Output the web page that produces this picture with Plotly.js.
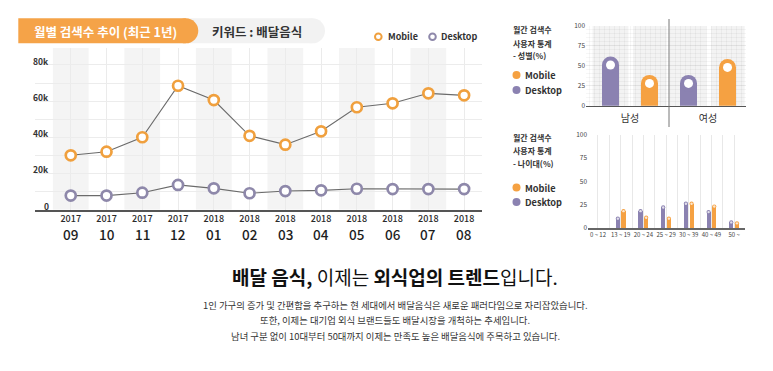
<!DOCTYPE html>
<html>
<head>
<meta charset="utf-8">
<script src="https://cdn.plot.ly/plotly-3.0.1.min.js"></script>
<style>html,body{margin:0;padding:0;background:#fff;}#chart{width:773px;height:371px;}</style>
</head>
<body>
<div id="chart"></div>
<script>
// ---------- data ----------
const months = ['2017-09','2017-10','2017-11','2017-12','2018-01','2018-02','2018-03','2018-04','2018-05','2018-06','2018-07','2018-08'];
const yearLabels = ['2017','2017','2017','2017','2018','2018','2018','2018','2018','2018','2018','2018'];
const monthLabels = ['09','10','11','12','01','02','03','04','05','06','07','08'];
const mobileSearches = [30000, 32000, 40000, 68500, 60600, 40800, 35900, 43300, 56600, 58800, 64300, 63200];
const desktopSearches = [7700, 7700, 9300, 13600, 11700, 9000, 10200, 10600, 11500, 11300, 11300, 11300];
const searchTicks = [0, 20000, 40000, 60000, 80000];
const searchTickLabels = ['0', '20k', '40k', '60k', '80k'];

const genders = ['남성', '여성'];
const genderDesktop = [51, 28];
const genderMobile = [28, 48];

const ageGroups = ['0 ~ 12', '13 ~ 19', '20 ~ 24', '25 ~ 29', '30 ~ 39', '40 ~ 49', '50 ~'];
const ageDesktop = [0, 10, 18, 22, 26, 17, 6];
const ageMobile = [0, 18, 11, 10, 26, 23, 5];
const pctTicks = [0, 25, 50, 75, 100];
const pctTickLabels = ['0', '25', '50', '75', '100'];

const headerTitle = '월별 검색수 추이 (최근 1년)';
const keywordLabel = '키워드 : 배달음식';
const genderTitle = ['월간 검색수', '사용자 통계', '- 성별(%)'];
const ageTitle = ['월간 검색수', '사용자 통계', '- 나이대(%)'];
const headline = '<b>배달 음식,</b> 이제는 <b>외식업의 트렌드</b>입니다.';
const bodyLines = [
  '1인 가구의 증가 및 간편함을 추구하는 현 세대에서 배달음식은 새로운 패러다임으로 자리잡았습니다.',
  '또한, 이제는 대기업 외식 브랜드들도 배달시장을 개척하는 추세입니다.',
  '남녀 구분 없이 10대부터 50대까지 이제는 만족도 높은 배달음식에 주목하고 있습니다.'
];

// ---------- helpers ----------
const W = 773, H = 371;
const X = p => p / W;
const Y = p => 1 - p / H;
const FONT = 'Noto Sans CJK KR, Noto Sans, sans-serif';
const ORANGE = '#f5a142';
const PURPLE = '#8b82b1';
const RING_ORANGE = '#f0a03e';
const RING_PURPLE = '#8e88aa';

const gIdx = genders.map((_, i) => i);
const aIdx = ageGroups.map((_, i) => i);

const traces = [];
// main chart
traces.push({x: months, y: mobileSearches, type: 'scatter', mode: 'lines+markers', xaxis: 'x', yaxis: 'y',
  line: {color: '#6b6b6b', width: 1.1},
  marker: {symbol: 'circle', size: 10, color: '#ffffff', line: {color: RING_ORANGE, width: 2.7}}, hoverinfo: 'skip'});
traces.push({x: months, y: desktopSearches, type: 'scatter', mode: 'lines+markers', xaxis: 'x', yaxis: 'y',
  line: {color: '#6b6b6b', width: 1.1},
  marker: {symbol: 'circle', size: 10, color: '#ffffff', line: {color: RING_PURPLE, width: 2.7}}, hoverinfo: 'skip'});

function lollipop(xs, ys, color, width, capSize, dotSize, dotColor, xa, ya) {
  traces.push({x: xs, y: ys, type: 'bar', width: width, marker: {color: color}, xaxis: xa, yaxis: ya, hoverinfo: 'skip'});
  const yv = ys.map(v => v > 0 ? v : null);
  traces.push({x: xs, y: yv, type: 'scatter', mode: 'markers', xaxis: xa, yaxis: ya, cliponaxis: false,
    marker: {size: capSize, color: color}, hoverinfo: 'skip'});
  traces.push({x: xs, y: yv, type: 'scatter', mode: 'markers', xaxis: xa, yaxis: ya, cliponaxis: false,
    marker: {size: dotSize, color: dotColor}, hoverinfo: 'skip'});
}
// gender chart
lollipop(gIdx.map(i => i - 0.25), genderDesktop, PURPLE, 0.215, 17, 9, '#ffffff', 'x2', 'y2');
lollipop(gIdx.map(i => i + 0.25), genderMobile, ORANGE, 0.215, 17, 9, '#ffffff', 'x2', 'y2');
// age chart
lollipop(aIdx.map(i => i - 0.125), ageDesktop, PURPLE, 0.18, 4.2, 2.4, 'rgba(255,255,255,0.75)', 'x3', 'y3');
lollipop(aIdx.map(i => i + 0.125), ageMobile, ORANGE, 0.18, 4.2, 2.4, 'rgba(255,255,255,0.75)', 'x3', 'y3');

const shapes = [];
const annotations = [];
function label(x, y, text, size, color, xanchor, weight) {
  annotations.push({xref: 'paper', yref: 'paper', x: X(x), y: Y(y), xanchor: xanchor || 'center', yanchor: 'middle',
    text: text, showarrow: false, font: {size: size, color: color, family: FONT, weight: weight || 'normal'}});
}

// header pills
shapes.push({type: 'rect', xref: 'paper', yref: 'paper', x0: X(170), x1: X(312.5), y0: Y(43.3), y1: Y(18.3), fillcolor: '#f2f2f2', line: {width: 0}, layer: 'below'});
shapes.push({type: 'circle', xref: 'paper', yref: 'paper', x0: X(300), x1: X(325), y0: Y(43.3), y1: Y(18.3), fillcolor: '#f2f2f2', line: {width: 0}, layer: 'below'});
shapes.push({type: 'rect', xref: 'paper', yref: 'paper', x0: X(18.3), x1: X(185.8), y0: Y(43.3), y1: Y(18.3), fillcolor: '#f5a348', line: {width: 0}, layer: 'below'});
shapes.push({type: 'circle', xref: 'paper', yref: 'paper', x0: X(173.3), x1: X(198.3), y0: Y(43.3), y1: Y(18.3), fillcolor: '#f5a348', line: {width: 0}, layer: 'below'});
label(105, 31, '<b>' + headerTitle + '</b>', 12.5, '#ffffff');
label(257, 31, '<b>' + keywordLabel + '</b>', 12.5, '#333333');

// main legend
function ring(cx, cy, r, color, fill, lw) {
  shapes.push({type: 'circle', xref: 'paper', yref: 'paper', x0: X(cx - r), x1: X(cx + r), y0: Y(cy + r), y1: Y(cy - r),
    fillcolor: fill, line: {color: color, width: lw}, layer: 'above'});
}
ring(378.3, 36.7, 3.3, RING_ORANGE, '#ffffff', 2);
ring(432.5, 36.7, 3.3, RING_PURPLE, '#ffffff', 2);
label(386, 36.7, '<b>Mobile</b>', 9, '#333', 'left');
label(439, 36.7, '<b>Desktop</b>', 9, '#333', 'left');

// main chart bands
months.forEach((m, i) => {
  if (i % 2 === 0) shapes.push({type: 'rect', xref: 'x', yref: 'y domain', x0: i - 0.5, x1: i + 0.5, y0: 0, y1: 1, fillcolor: '#f4f4f4', line: {width: 0}, layer: 'below'});
});
// main y labels
searchTicks.forEach((v, i) => {
  annotations.push({xref: 'paper', yref: 'y', x: X(50.5), y: v, xanchor: 'right', yanchor: 'middle', yshift: 4, text: '<b>' + searchTickLabels[i] + '</b>', showarrow: false, font: {size: 8.5, color: '#333', family: FONT}});
});
// month labels
months.forEach((m, i) => {
  annotations.push({xref: 'x', yref: 'paper', x: m, y: Y(233.5), xanchor: 'center', yanchor: 'middle', text: monthLabels[i], showarrow: false, font: {size: 13.5, color: '#1e1e1e', family: FONT, weight: 500}});
});

// gender chart extras
genders.forEach((g, i) => {
  shapes.push({type: 'rect', xref: 'x2', yref: 'y2 domain', x0: i - 0.48, x1: i - 0.02, y0: 0, y1: 1, fillcolor: '#f3f3f3', line: {width: 0}, layer: 'below'});
  shapes.push({type: 'rect', xref: 'x2', yref: 'y2 domain', x0: i + 0.04, x1: i + 0.47, y0: 0, y1: 1, fillcolor: '#f3f3f3', line: {width: 0}, layer: 'below'});
});
shapes.push({type: 'line', xref: 'x2', yref: 'paper', x0: 0.5, x1: 0.5, y0: Y(127), y1: Y(19), line: {color: '#777', width: 1}, layer: 'above'});

function sideBlock(lines, yTop, legY1, legY2) {
  lines.forEach((t, i) => label(511, yTop + i * 13, '<b>' + t + '</b>', 8, '#333', 'left'));
  ring(516.5, legY1, 4, ORANGE, ORANGE, 0);
  ring(516.5, legY2, 4, PURPLE, PURPLE, 0);
  label(523, legY1, '<b>Mobile</b>', 9.2, '#333', 'left');
  label(523, legY2, '<b>Desktop</b>', 9.2, '#333', 'left');
}
sideBlock(genderTitle, 30, 75, 90);
sideBlock(ageTitle, 137.5, 187.5, 202);

// bottom text
label(395, 276, headline, 19, '#111');
bodyLines.forEach((t, i) => label(395, 304.5 + i * 15.7, t, 9.4, '#333'));

const layout = {
  width: W, height: H, margin: {l: 0, r: 0, t: 0, b: 0, autoexpand: false}, showlegend: false,
  paper_bgcolor: '#ffffff', plot_bgcolor: 'rgba(0,0,0,0)',
  font: {family: FONT, color: '#333'},
  bargap: 0,
  xaxis: {domain: [X(35), X(482)], type: 'category', range: [-1, 11.5], tickmode: 'array', tickvals: months, ticktext: yearLabels,
    tickfont: {size: 9, color: '#2a2a2a', family: FONT, weight: 500}, ticks: '', showgrid: true, gridcolor: '#ebebeb', gridwidth: 1,
    showline: true, linecolor: '#555', linewidth: 2, zeroline: false, fixedrange: true, anchor: 'y'},
  yaxis: {domain: [Y(209.5), Y(48)], range: [0, 89400], tickmode: 'linear', tick0: 0, dtick: 10000, showticklabels: false,
    showgrid: true, gridcolor: '#ececec', gridwidth: 1, zeroline: false, showline: false, fixedrange: true, anchor: 'x'},
  xaxis2: {domain: [X(586), X(746)], range: [-0.564, 1.487], tickmode: 'array', tickvals: gIdx, ticktext: genders,
    tickfont: {size: 10, color: '#333', family: FONT}, ticks: 'outside', ticklen: 3, tickcolor: 'rgba(0,0,0,0)',
    showgrid: false, showline: true, linecolor: '#555', linewidth: 1.5, zeroline: false, anchor: 'y2',
    minor: {tickmode: 'linear', tick0: 0, dtick: 0.065, showgrid: true, gridcolor: 'rgba(0,0,0,0.035)', ticks: ''}},
  yaxis2: {domain: [Y(105.7), Y(26)], range: [0, 100], tickmode: 'array', tickvals: pctTicks, ticktext: pctTickLabels,
    tickfont: {size: 6.5, color: '#444', family: FONT}, ticks: '', showgrid: true, gridcolor: 'rgba(0,0,0,0.04)',
    zeroline: false, showline: false, anchor: 'x2',
    minor: {tickmode: 'linear', tick0: 0, dtick: 5, showgrid: true, gridcolor: 'rgba(0,0,0,0.035)', ticks: ''}},
  xaxis3: {domain: [X(588), X(745)], range: [-0.44, 6.48], tickmode: 'array', tickvals: aIdx, ticktext: ageGroups,
    tickfont: {size: 6, color: '#444', family: FONT}, ticks: '', showgrid: true, gridcolor: '#e8e8e8',
    showline: true, linecolor: '#666', linewidth: 1.5, zeroline: false, anchor: 'y3',
    minor: {tickmode: 'linear', tick0: -0.5, dtick: 1, showgrid: true, gridcolor: '#e8e8e8', ticks: ''}},
  yaxis3: {domain: [Y(228), Y(134.5)], range: [0, 100], tickmode: 'array', tickvals: pctTicks, ticktext: pctTickLabels,
    tickfont: {size: 6.5, color: '#444', family: FONT}, ticks: '', showgrid: false, zeroline: false, showline: false, anchor: 'x3'},
  shapes: shapes,
  annotations: annotations
};

Plotly.newPlot('chart', traces, layout, {staticPlot: true, displayModeBar: false});
</script>
</body>
</html>
